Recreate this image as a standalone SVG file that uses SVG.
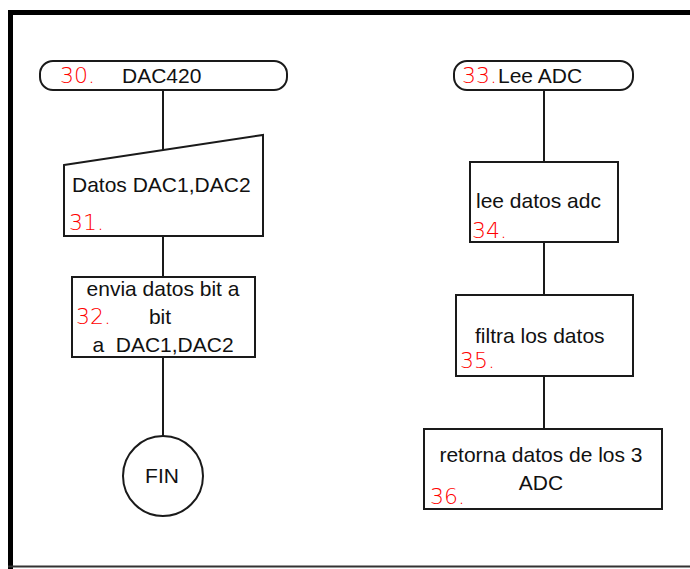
<svg xmlns="http://www.w3.org/2000/svg" width="690" height="569" viewBox="0 0 690 569">
  <style>
    .shape { fill: #ffffff; stroke: #1a1a1a; stroke-width: 2; }
    .link { stroke: #1a1a1a; stroke-width: 2; fill: none; }
    .lbl { font-family: "Liberation Sans", Arial, sans-serif; font-size: 21px; fill: #111111; }
    .num { font-family: "DejaVu Sans", "Liberation Sans", sans-serif; font-weight: 200; font-size: 22px; fill: #ff0000; }
    .mid { text-anchor: middle; }
  </style>
  <rect x="0" y="0" width="690" height="569" fill="#ffffff"/>
  <!-- page frame -->
  <g id="frame">
    <line x1="8" y1="12.5" x2="690" y2="12.5" stroke="#000" stroke-width="5"/>
    <line x1="10.5" y1="10" x2="10.5" y2="569" stroke="#000" stroke-width="5"/>
    <line x1="8" y1="566.5" x2="690" y2="566.5" stroke="#333" stroke-width="2"/>
  </g>

  <!-- connectors -->
  <g id="connectors">
    <line class="link" x1="163" y1="90" x2="163" y2="150"/>
    <line class="link" x1="163" y1="236" x2="163" y2="277"/>
    <line class="link" x1="163" y1="357" x2="163" y2="436"/>
    <line class="link" x1="544" y1="90" x2="544" y2="162"/>
    <line class="link" x1="544" y1="242" x2="544" y2="295"/>
    <line class="link" x1="544" y1="376" x2="544" y2="429"/>
  </g>

  <!-- left routine -->
  <g id="n30">
    <rect class="shape" x="40" y="61" width="247" height="29" rx="13" ry="13"/>
    <text class="num" x="60" y="83">30.</text>
    <text class="lbl" x="122" y="83">DAC420</text>
  </g>
  <g id="n31">
    <polygon class="shape" points="64,165 263,135 263,236 64,236"/>
    <text class="lbl" x="72" y="192">Datos DAC1,DAC2</text>
    <text class="num" x="69" y="230">31.</text>
  </g>
  <g id="n32">
    <rect class="shape" x="72" y="277" width="183" height="80"/>
    <text class="lbl mid" x="163" y="296">envia datos bit a</text>
    <text class="num" x="76" y="324">32.</text>
    <text class="lbl mid" x="160" y="324">bit</text>
    <text class="lbl mid" x="163" y="352" xml:space="preserve">a  DAC1,DAC2</text>
  </g>
  <g id="fin">
    <circle class="shape" cx="163" cy="476" r="40"/>
    <text class="lbl mid" x="162" y="483">FIN</text>
  </g>

  <!-- right routine -->
  <g id="n33">
    <rect class="shape" x="454" y="61" width="179" height="29" rx="13" ry="13"/>
    <text class="num" x="462" y="83">33.</text>
    <text class="lbl" x="498" y="83">Lee ADC</text>
  </g>
  <g id="n34">
    <rect class="shape" x="470" y="162" width="148" height="80"/>
    <text class="lbl" x="476" y="208">lee datos adc</text>
    <text class="num" x="472" y="238">34.</text>
  </g>
  <g id="n35">
    <rect class="shape" x="456" y="295" width="177" height="81"/>
    <text class="lbl" x="475" y="343">filtra los datos</text>
    <text class="num" x="460" y="368">35.</text>
  </g>
  <g id="n36">
    <rect class="shape" x="424" y="429" width="238" height="80"/>
    <text class="lbl mid" x="541" y="462">retorna datos de los 3</text>
    <text class="lbl mid" x="541" y="490">ADC</text>
    <text class="num" x="430" y="504">36.</text>
  </g>
</svg>
